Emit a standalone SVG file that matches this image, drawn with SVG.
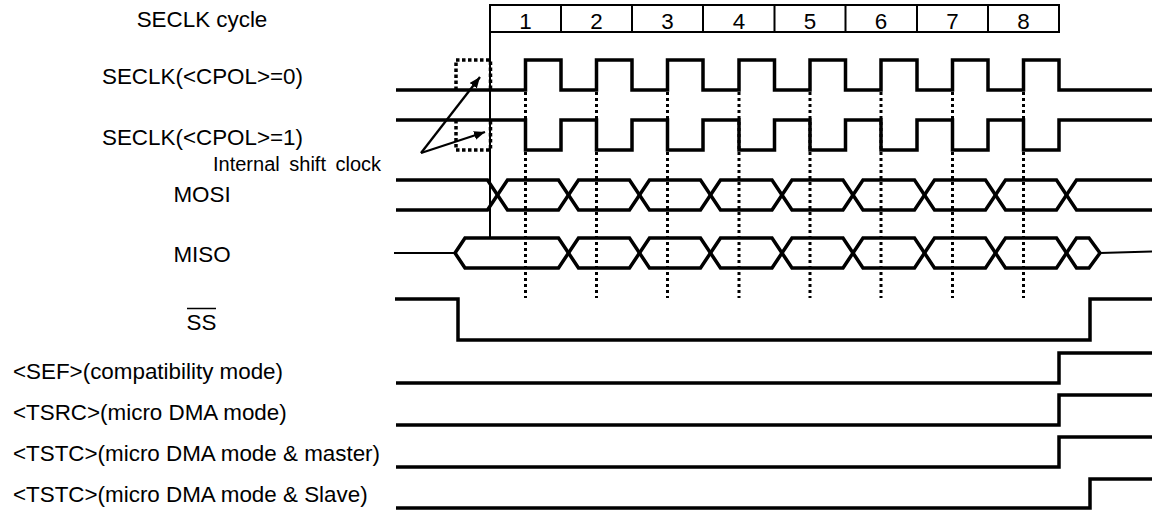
<svg xmlns="http://www.w3.org/2000/svg" width="1152" height="510" viewBox="0 0 1152 510">
<style>
text{font-family:"Liberation Sans",Arial,sans-serif;font-size:22.4px;fill:#000}
.c{text-anchor:middle}
.sig{fill:none;stroke:#000;stroke-width:3.5;stroke-linejoin:miter;stroke-linecap:butt}
.thin{fill:none;stroke:#000;stroke-width:2}
.dot{fill:none;stroke:#000;stroke-width:3;stroke-dasharray:3 3}
.box{fill:none;stroke:#000;stroke-width:3.5;stroke-dasharray:3.5 2.5}
.arr{fill:none;stroke:#000;stroke-width:2.3}
</style>
<defs>
<marker id="ah" markerUnits="userSpaceOnUse" markerWidth="11" markerHeight="9" refX="11" refY="4.5" orient="auto">
<path d="M0,0 L11,4.5 L0,9 z" fill="#000"/>
</marker>
</defs>
<rect width="1152" height="510" fill="#fff"/>

<g id="cycle">
<text class="c" x="202" y="27">SECLK cycle</text>
<rect class="thin" x="490" y="5" width="569" height="27"/>
<path class="thin" d="M561,5V32M632,5V32M703,5V32M774.5,5V32M845.5,5V32M917,5V32M988,5V32"/>
<text class="c" x="525.5" y="29">1</text>
<text class="c" x="596.5" y="29">2</text>
<text class="c" x="667.5" y="29">3</text>
<text class="c" x="739" y="29">4</text>
<text class="c" x="810" y="29">5</text>
<text class="c" x="881" y="29">6</text>
<text class="c" x="952.5" y="29">7</text>
<text class="c" x="1023.5" y="29">8</text>
<path class="thin" d="M490,5V238"/>
</g>

<g id="dotted-guides">
<path class="dot" d="M525.5,92V298M596.5,92V298M667.5,92V298M739,92V298M810,92V298M881,92V298M952.5,92V298M1023.5,92V298"/>
</g>

<g id="seclk0">
<text class="c" x="202.5" y="84">SECLK(&lt;CPOL&gt;=0)</text>
<path class="sig" d="M396,90H525.5V60H561V90H596.5V60H632V90H667.5V60H703V90H739V60H774.5V90H810V60H845.5V90H881V60H917V90H952.5V60H988V90H1023.5V60H1059V90H1152"/>
</g>

<g id="seclk1">
<text class="c" x="202.5" y="145">SECLK(&lt;CPOL&gt;=1)</text>
<path class="sig" d="M396,120H525.5V150H561V120H596.5V150H632V120H667.5V150H703V120H739V150H774.5V120H810V150H845.5V120H881V150H917V120H952.5V150H988V120H1023.5V150H1059V120H1152"/>
</g>

<g id="internal-shift-clock">
<text x="213" y="171" style="font-size:20px;word-spacing:4px">Internal shift clock</text>
<path class="box" d="M456,90V60H490.5V90"/>
<path class="box" d="M456,120V150H490.5V120"/>
</g>

<g id="mosi">
<text class="c" x="202" y="202">MOSI</text>
<path class="sig" d="M396,180H487.5L507.5,210H558.5L578.5,180H629.5L649.5,210H700.5L720.5,180H772L792,210H843L863,180H914.5L934.5,210H985.5L1005.5,180H1056.5L1076.5,210H1152"/>
<path class="sig" d="M396,210H487.5L507.5,180H558.5L578.5,210H629.5L649.5,180H700.5L720.5,210H772L792,180H843L863,210H914.5L934.5,180H985.5L1005.5,210H1056.5L1076.5,180H1152"/>
</g>

<g id="miso">
<text class="c" x="202" y="262">MISO</text>
<path class="thin" d="M394,253H455M1100,253L1152,251.5"/>
<path class="sig" d="M455,253L465,238H558.5L578.5,268H629.5L649.5,238H700.5L720.5,268H772L792,238H843L863,268H914.5L934.5,238H985.5L1005.5,268H1056.5L1076.5,238H1089L1100,253"/>
<path class="sig" d="M455,253L465,268H558.5L578.5,238H629.5L649.5,268H700.5L720.5,238H772L792,268H843L863,238H914.5L934.5,268H985.5L1005.5,238H1056.5L1076.5,268H1089L1100,253"/>
</g>

<g id="ss">
<text class="c" x="201.5" y="330">SS</text>
<path d="M187,308.5H216" stroke="#000" stroke-width="1.5"/>
<path class="sig" d="M395,299H458V340H1090V299H1152"/>
</g>

<g id="sef">
<text x="13" y="379">&lt;SEF&gt;(compatibility mode)</text>
<path class="sig" d="M396,383H1059V353H1152"/>
</g>

<g id="tsrc">
<text x="13" y="420">&lt;TSRC&gt;(micro DMA mode)</text>
<path class="sig" d="M396,425H1059V395H1152"/>
</g>

<g id="tstc-master">
<text x="13" y="461">&lt;TSTC&gt;(micro DMA mode &amp; master)</text>
<path class="sig" d="M396,467H1059V437H1152"/>
</g>

<g id="tstc-slave">
<text x="13" y="502">&lt;TSTC&gt;(micro DMA mode &amp; Slave)</text>
<path class="sig" d="M396,508H1090V479H1152"/>
</g>

<g id="connectors">
<line class="arr" x1="421" y1="153" x2="480" y2="77" marker-end="url(#ah)"/>
<line class="arr" x1="421" y1="153" x2="485" y2="132" marker-end="url(#ah)"/>
</g>
</svg>
